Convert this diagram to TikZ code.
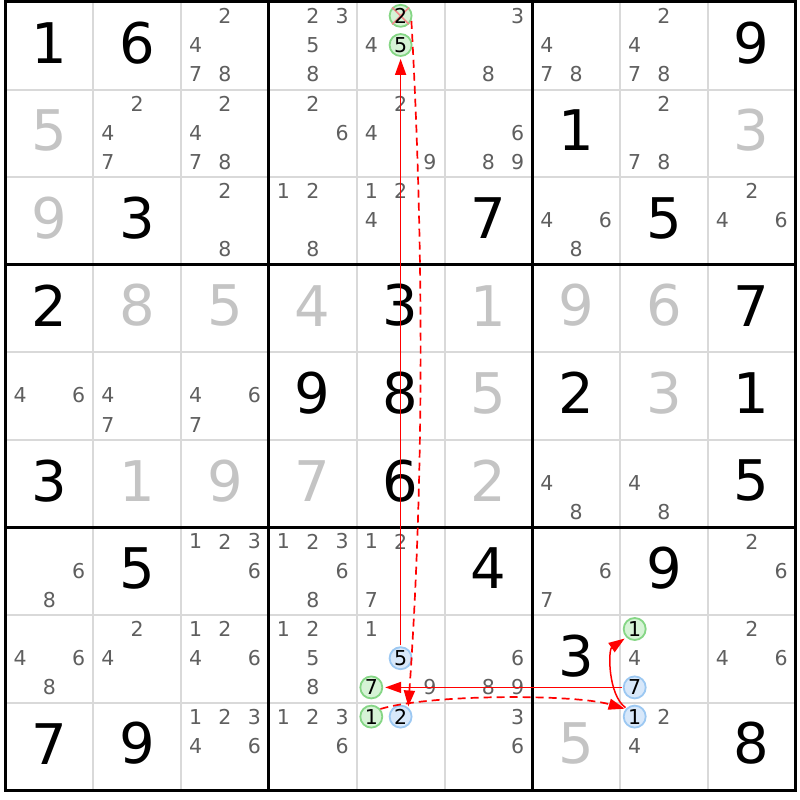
\documentclass[tikz,border=0pt]{standalone}
\usepackage{fontspec}
\setmainfont{DejaVu Sans}
\usetikzlibrary{arrows.meta}
\definecolor{solvedgray}{HTML}{C4C4C4}
\definecolor{candgray}{HTML}{5F5F5F}
\definecolor{gridgray}{HTML}{D9D9D9}
\definecolor{circgreen}{HTML}{85D685}
\definecolor{fillgreen}{HTML}{D6F3D6}
\definecolor{circblue}{HTML}{9CC8F2}
\definecolor{fillblue}{HTML}{D8E8FA}
\definecolor{crosspink}{HTML}{F28A8A}
\definecolor{chainred}{HTML}{FF0000}
\newcommand\givenfont{\fontsize{56pt}{56pt}\selectfont}
\newcommand\candfont{\fontsize{20.5pt}{20.5pt}\selectfont}
\newcommand\given[3]{\node[givenst] (g#1#2) at ({49.4+87.8*(#2-1)},{42.8+87.6*(#1-1)}) {#3};}
\newcommand\solved[3]{\node[solvedst] (s#1#2) at ({49.4+87.8*(#2-1)},{42.8+87.6*(#1-1)}) {#3};}
\newcommand\cands[3]{\foreach \d in {#3}{\node[candst] (c#1#2-\d) at ({20.1+87.8*(#2-1)+29.3*mod(\d-1,3)},{15.8+87.6*(#1-1)+29.2*int((\d-1)/3)}) {\d};}}
\newcommand\circd[4]{\node[#4] (k#1#2-#3) at ({20.1+87.8*(#2-1)+29.3*mod(#3-1,3)},{15.8+87.6*(#1-1)+29.2*int((#3-1)/3)}) {#3};}
\begin{document}
\begin{tikzpicture}[x=1pt,y=-1pt,
  givenst/.style={font=\givenfont,text=black,inner sep=0pt},
  solvedst/.style={font=\givenfont,text=solvedgray,inner sep=0pt},
  candst/.style={font=\candfont,text=candgray,inner sep=0pt},
  gcirc/.style={circle,draw=circgreen,fill=fillgreen,line width=1.8pt,minimum size=22pt,inner sep=0pt,font=\candfont,text=black},
  bcirc/.style={circle,draw=circblue,fill=fillblue,line width=1.8pt,minimum size=22pt,inner sep=0pt,font=\candfont,text=black},
  thingrid/.style={draw=gridgray,line width=2pt},
  thickgrid/.style={draw=black,line width=3pt},
  crossline/.style={draw=crosspink,line width=1.6pt},
  solidarrow/.style={draw=chainred,line width=1.5pt,-{Triangle[length=16pt,width=11pt]},shorten >=2pt,shorten <=1pt},
  dasharrow/.style={draw=chainred,line width=1.7pt,dash pattern=on 8pt off 5pt,-{Triangle[length=16pt,width=11pt]},shorten >=1pt}
]
\useasboundingbox (0,0) rectangle (800,800);
\fill[white] (0,0) rectangle (800,800);
% grid
\foreach \i in {1,2,4,5,7,8}{
  \draw[thingrid] ({5.5+87.8*\i},2) -- ({5.5+87.8*\i},790.4);
  \draw[thingrid] (5.5,{2+87.6*\i}) -- (795.5,{2+87.6*\i});
}
\foreach \i in {0,3,6,9}{
  \draw[thickgrid] ({5.5+87.8*\i},0.5) -- ({5.5+87.8*\i},791.9);
  \draw[thickgrid] (4,{2+87.6*\i}) -- (797,{2+87.6*\i});
}
% row 1
\given{1}{1}{1}\given{1}{2}{6}\cands{1}{3}{2,4,7,8}\cands{1}{4}{2,3,5,8}\cands{1}{5}{4}
\cands{1}{6}{3,8}\cands{1}{7}{4,7,8}\cands{1}{8}{2,4,7,8}\given{1}{9}{9}
% row 2
\solved{2}{1}{5}\cands{2}{2}{2,4,7}\cands{2}{3}{2,4,7,8}\cands{2}{4}{2,6}\cands{2}{5}{2,4,9}
\cands{2}{6}{6,8,9}\given{2}{7}{1}\cands{2}{8}{2,7,8}\solved{2}{9}{3}
% row 3
\solved{3}{1}{9}\given{3}{2}{3}\cands{3}{3}{2,8}\cands{3}{4}{1,2,8}\cands{3}{5}{1,2,4}
\given{3}{6}{7}\cands{3}{7}{4,6,8}\given{3}{8}{5}\cands{3}{9}{2,4,6}
% row 4
\given{4}{1}{2}\solved{4}{2}{8}\solved{4}{3}{5}\solved{4}{4}{4}\given{4}{5}{3}
\solved{4}{6}{1}\solved{4}{7}{9}\solved{4}{8}{6}\given{4}{9}{7}
% row 5
\cands{5}{1}{4,6}\cands{5}{2}{4,7}\cands{5}{3}{4,6,7}\given{5}{4}{9}\given{5}{5}{8}
\solved{5}{6}{5}\given{5}{7}{2}\solved{5}{8}{3}\given{5}{9}{1}
% row 6
\given{6}{1}{3}\solved{6}{2}{1}\solved{6}{3}{9}\solved{6}{4}{7}\given{6}{5}{6}
\solved{6}{6}{2}\cands{6}{7}{4,8}\cands{6}{8}{4,8}\given{6}{9}{5}
% row 7
\cands{7}{1}{6,8}\given{7}{2}{5}\cands{7}{3}{1,2,3,6}\cands{7}{4}{1,2,3,6,8}\cands{7}{5}{1,2,7}
\given{7}{6}{4}\cands{7}{7}{6,7}\given{7}{8}{9}\cands{7}{9}{2,6}
% row 8
\cands{8}{1}{4,6,8}\cands{8}{2}{2,4}\cands{8}{3}{1,2,4,6}\cands{8}{4}{1,2,5,8}\cands{8}{5}{1,9}
\cands{8}{6}{6,8,9}\given{8}{7}{3}\cands{8}{8}{4}\cands{8}{9}{2,4,6}
% row 9
\given{9}{1}{7}\given{9}{2}{9}\cands{9}{3}{1,2,3,4,6}\cands{9}{4}{1,2,3,6}
\cands{9}{6}{3,6}\solved{9}{7}{5}\cands{9}{8}{2,4}\given{9}{9}{8}
% highlighted candidates
\node[gcirc] (k15-2) at (400.6,15.8) {};
\draw[crossline] (k15-2.north west) -- (k15-2.south east);
\draw[crossline] (k15-2.north east) -- (k15-2.south west);
\node[inner sep=0pt,font=\candfont,text=black] (t15-2) at (k15-2) {2};
\circd{1}{5}{5}{gcirc}
\circd{8}{5}{5}{bcirc}
\circd{8}{5}{7}{gcirc}
\circd{9}{5}{1}{gcirc}
\circd{9}{5}{2}{bcirc}
\circd{8}{8}{1}{gcirc}
\circd{8}{8}{7}{bcirc}
\circd{9}{8}{1}{bcirc}
% chain
\draw[solidarrow] (k85-5) -- (k15-5);
\draw[dasharrow] (k15-2.-25) .. controls (424,250) and (424,480) .. (k95-2.50);
\draw[solidarrow] (k88-7) -- (k85-7);
\draw[dasharrow] (k95-1.40) .. controls (430,694) and (574,694) .. (k98-1.140);
\draw[solidarrow] (k98-1.135) .. controls (608,695) and (608,650) .. (k88-1.-135);
\end{tikzpicture}
\end{document}
